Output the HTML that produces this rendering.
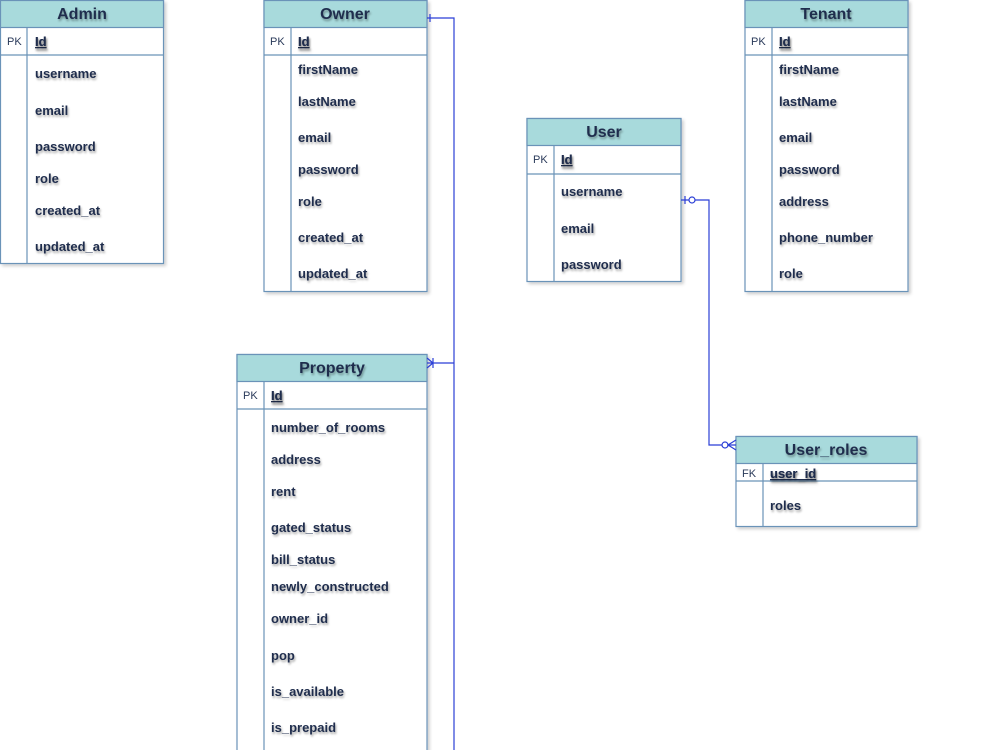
<!DOCTYPE html>
<html><head><meta charset="utf-8">
<style>
html,body{margin:0;padding:0;background:#fff;}
svg{display:block;}
text{font-family:"Liberation Sans",sans-serif;fill:#1f2d4d;}
.t{font-size:16px;font-weight:bold;text-anchor:middle;text-shadow:1px 2px 2px rgba(0,0,0,0.35);}
.f{font-size:13px;font-weight:bold;text-shadow:1px 2px 2px rgba(0,0,0,0.35);}
.k{font-size:11px;fill:#2a3a5a;}
.u{text-decoration:underline;}
</style></head>
<body>
<svg width="1000" height="750" viewBox="0 0 1000 750" xmlns="http://www.w3.org/2000/svg">
<defs>
<filter id="sh" x="-5%" y="-5%" width="115%" height="115%"><feDropShadow dx="2" dy="2" stdDeviation="1.5" flood-color="#000" flood-opacity="0.2"/></filter>
</defs>
<g stroke="#6a93b8" stroke-width="1.2" fill="#fff">
<!-- Admin -->
<rect x="0.5" y="0.5" width="163" height="263" filter="url(#sh)"/>
<rect x="0.5" y="0.5" width="163" height="27" fill="#a8dadc"/>
<line x1="0.5" y1="55" x2="163.5" y2="55"/><line x1="27" y1="27.5" x2="27" y2="263.5"/>
<!-- Owner -->
<rect x="264" y="0.5" width="163" height="291" filter="url(#sh)"/>
<rect x="264" y="0.5" width="163" height="27" fill="#a8dadc"/>
<line x1="264" y1="55" x2="427" y2="55"/><line x1="291" y1="27.5" x2="291" y2="291.5"/>
<!-- Tenant -->
<rect x="745" y="0.5" width="163" height="291" filter="url(#sh)"/>
<rect x="745" y="0.5" width="163" height="27" fill="#a8dadc"/>
<line x1="745" y1="55" x2="908" y2="55"/><line x1="772" y1="27.5" x2="772" y2="291.5"/>
<!-- User -->
<rect x="527" y="118.5" width="154" height="163" filter="url(#sh)"/>
<rect x="527" y="118.5" width="154" height="27" fill="#a8dadc"/>
<line x1="527" y1="174" x2="681" y2="174"/><line x1="554" y1="145.5" x2="554" y2="281.5"/>
<!-- Property -->
<rect x="237" y="354.5" width="190" height="420" filter="url(#sh)"/>
<rect x="237" y="354.5" width="190" height="27" fill="#a8dadc"/>
<line x1="237" y1="409" x2="427" y2="409"/><line x1="264" y1="381.5" x2="264" y2="760"/>
<!-- User_roles -->
<rect x="736" y="436.5" width="181" height="90" filter="url(#sh)"/>
<rect x="736" y="436.5" width="181" height="27" fill="#a8dadc"/>
<line x1="736" y1="481" x2="917" y2="481"/><line x1="763" y1="463.5" x2="763" y2="526.5"/>
</g>
<!-- connectors -->
<g stroke="#2b3fd6" stroke-width="1.2" fill="none">
<polyline points="427,18 454,18 454,750"/>
<line x1="430" y1="14" x2="430" y2="22"/>
<line x1="427" y1="363" x2="454" y2="363"/>
<line x1="433" y1="358" x2="433" y2="368"/>
<polyline points="427,358 433,363 427,368"/>
<polyline points="681,200 709,200 709,445 736,445"/>
<line x1="685" y1="196" x2="685" y2="204"/>
<circle cx="692" cy="200" r="3" fill="#fff"/>
<circle cx="725" cy="445" r="3" fill="#fff"/>
<polyline points="736,440 728,445 736,450"/>
</g>
<!-- titles -->
<text class="t" x="82" y="19">Admin</text>
<text class="t" x="345" y="19">Owner</text>
<text class="t" x="826" y="19">Tenant</text>
<text class="t" x="604" y="137">User</text>
<text class="t" x="332" y="373">Property</text>
<text class="t" x="826" y="455">User_roles</text>
<!-- keys -->
<text class="k" x="7" y="45">PK</text><text class="f u" x="35" y="46">Id</text>
<text class="k" x="270" y="45">PK</text><text class="f u" x="298" y="46">Id</text>
<text class="k" x="751" y="45">PK</text><text class="f u" x="779" y="46">Id</text>
<text class="k" x="533" y="163">PK</text><text class="f u" x="561" y="164">Id</text>
<text class="k" x="243" y="399">PK</text><text class="f u" x="271" y="400">Id</text>
<text class="k" x="742" y="477">FK</text><text class="f u" x="770" y="478">user_id</text>
<!-- Admin fields -->
<text class="f" x="35" y="78">username</text>
<text class="f" x="35" y="115">email</text>
<text class="f" x="35" y="151">password</text>
<text class="f" x="35" y="183">role</text>
<text class="f" x="35" y="215">created_at</text>
<text class="f" x="35" y="251">updated_at</text>
<!-- Owner fields -->
<text class="f" x="298" y="74">firstName</text>
<text class="f" x="298" y="106">lastName</text>
<text class="f" x="298" y="142">email</text>
<text class="f" x="298" y="174">password</text>
<text class="f" x="298" y="206">role</text>
<text class="f" x="298" y="242">created_at</text>
<text class="f" x="298" y="278">updated_at</text>
<!-- Tenant fields -->
<text class="f" x="779" y="74">firstName</text>
<text class="f" x="779" y="106">lastName</text>
<text class="f" x="779" y="142">email</text>
<text class="f" x="779" y="174">password</text>
<text class="f" x="779" y="206">address</text>
<text class="f" x="779" y="242">phone_number</text>
<text class="f" x="779" y="278">role</text>
<!-- User fields -->
<text class="f" x="561" y="196">username</text>
<text class="f" x="561" y="233">email</text>
<text class="f" x="561" y="269">password</text>
<!-- Property fields -->
<text class="f" x="271" y="432">number_of_rooms</text>
<text class="f" x="271" y="464">address</text>
<text class="f" x="271" y="496">rent</text>
<text class="f" x="271" y="532">gated_status</text>
<text class="f" x="271" y="564">bill_status</text>
<text class="f" x="271" y="591">newly_constructed</text>
<text class="f" x="271" y="623">owner_id</text>
<text class="f" x="271" y="660">pop</text>
<text class="f" x="271" y="696">is_available</text>
<text class="f" x="271" y="732">is_prepaid</text>
<!-- User_roles -->
<text class="f" x="770" y="510">roles</text>
</svg>
</body></html>
